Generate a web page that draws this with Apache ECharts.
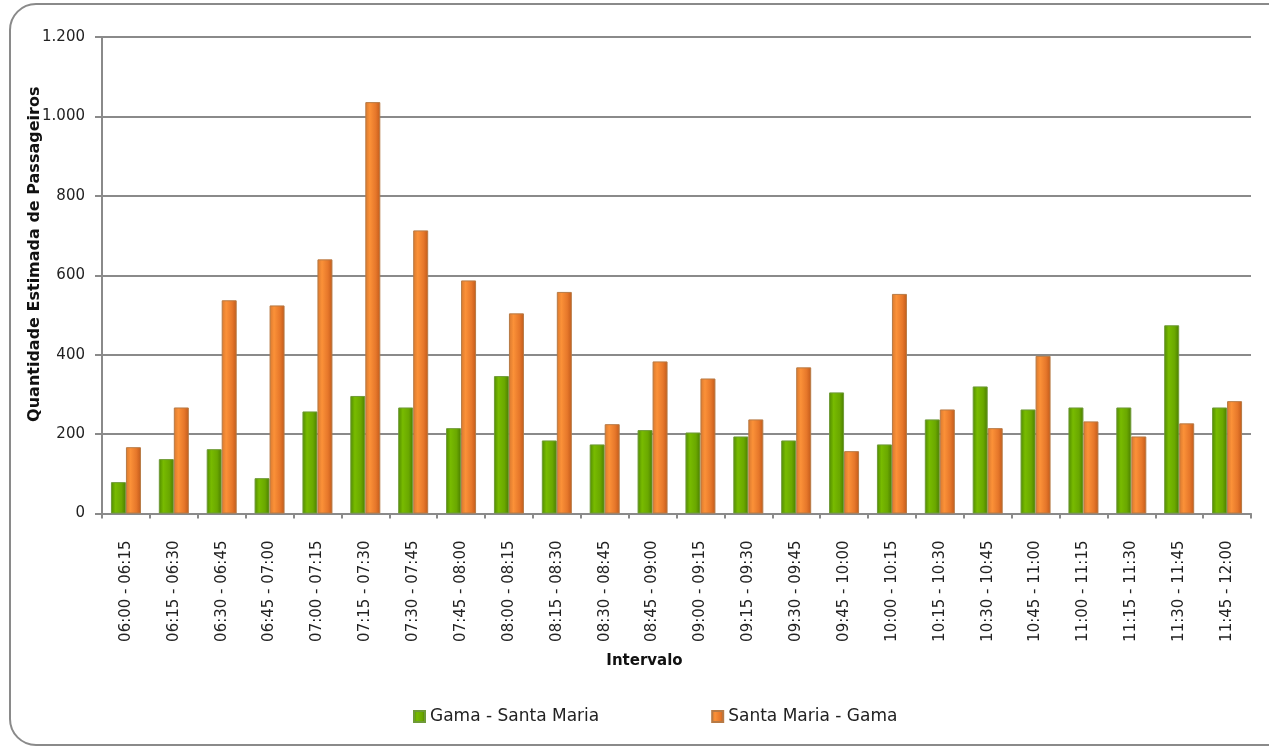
<!DOCTYPE html>
<html>
<head>
<meta charset="utf-8">
<script src="https://cdn.jsdelivr.net/npm/echarts@6/dist/echarts.min.js"></script>
<style>
html,body{margin:0;padding:0;background:#fff;}
#chart{width:1269px;height:746px;}
</style>
</head>
<body>
<div id="chart"></div>
<script>
const categories = ["06:00 - 06:15","06:15 - 06:30","06:30 - 06:45","06:45 - 07:00","07:00 - 07:15","07:15 - 07:30","07:30 - 07:45","07:45 - 08:00","08:00 - 08:15","08:15 - 08:30","08:30 - 08:45","08:45 - 09:00","09:00 - 09:15","09:15 - 09:30","09:30 - 09:45","09:45 - 10:00","10:00 - 10:15","10:15 - 10:30","10:30 - 10:45","10:45 - 11:00","11:00 - 11:15","11:15 - 11:30","11:30 - 11:45","11:45 - 12:00"];
const gamaSantaMaria = [79,137,162,89,257,296,267,215,346,184,174,210,204,194,184,305,174,237,320,262,267,267,474,267];
const santaMariaGama = [167,267,537,524,640,1036,713,587,504,558,225,383,340,237,368,157,553,262,215,397,232,194,227,283];
const seriesNames = ["Gama - Santa Maria","Santa Maria - Gama"];
const yTicks = {min:0, max:1200, interval:200};

const FONT = "DejaVu Sans";
const greenGrad = new echarts.graphic.LinearGradient(0,0,1,0,[
  {offset:0,color:'#4f8a00'},{offset:0.3,color:'#78bb00'},{offset:0.7,color:'#6aa800'},{offset:1,color:'#4a7d00'}]);
const orangeGrad = new echarts.graphic.LinearGradient(0,0,1,0,[
  {offset:0,color:'#d8782e'},{offset:0.3,color:'#fb9138'},{offset:0.7,color:'#e6772a'},{offset:1,color:'#c25a1a'}]);

const chart = echarts.init(document.getElementById('chart'), null, {renderer:'canvas'});
chart.setOption({
  animation:false,
  backgroundColor:'#fff',
  graphic:[{
    type:'rect', z:-1, silent:true,
    shape:{x:10, y:4, width:1290, height:741, r:26},
    style:{fill:'none', stroke:'#8a8a8a', lineWidth:2}
  }],
  grid:{left:102, right:18, top:37, bottom:232.5, containLabel:false},
  legend:{
    data:seriesNames, top:708, left:413, itemWidth:11, itemHeight:11, itemGap:112,
    icon:'rect', padding:0,
    textStyle:{fontFamily:FONT, fontSize:17, color:'#222'}
  },
  xAxis:{
    type:'category', data:categories,
    name:'Intervalo', nameLocation:'middle', nameGap:140, nameMoveOverlap:false,
    nameTextStyle:{fontFamily:FONT, fontWeight:'bold', fontSize:15, color:'#111', padding:[0,64,0,0]},
    axisLine:{lineStyle:{color:'#8a8a8a', width:2}},
    axisTick:{show:true, length:5, lineStyle:{color:'#8a8a8a', width:2}},
    axisLabel:{rotate:90, margin:27, fontFamily:FONT, fontSize:15, color:'#222', interval:0}
  },
  yAxis:{
    type:'value', min:yTicks.min, max:yTicks.max, interval:yTicks.interval,
    name:'Quantidade Estimada de Passageiros', nameLocation:'middle', nameGap:59, nameMoveOverlap:false,
    nameTextStyle:{fontFamily:FONT, fontWeight:'bold', fontSize:16, color:'#111', padding:[0,0,0,42]},
    axisLine:{show:true, lineStyle:{color:'#8a8a8a', width:2}},
    axisTick:{show:true, length:7, lineStyle:{color:'#8a8a8a', width:2}},
    axisLabel:{margin:17, fontFamily:FONT, fontSize:15, color:'#222',
      formatter:v=>String(v).replace(/\B(?=(\d{3})+(?!\d))/g,'.')},
    splitLine:{lineStyle:{color:'#8a8a8a', width:2}}
  },
  series:[
    {name:seriesNames[0], type:'bar', data:gamaSantaMaria, barWidth:15, barGap:'0%',
     itemStyle:{color:greenGrad, borderColor:'#6f9a38', borderWidth:1}},
    {name:seriesNames[1], type:'bar', data:santaMariaGama, barWidth:15, barGap:'0%',
     itemStyle:{color:orangeGrad, borderColor:'#b77a45', borderWidth:1}}
  ]
});
</script>
</body>
</html>
